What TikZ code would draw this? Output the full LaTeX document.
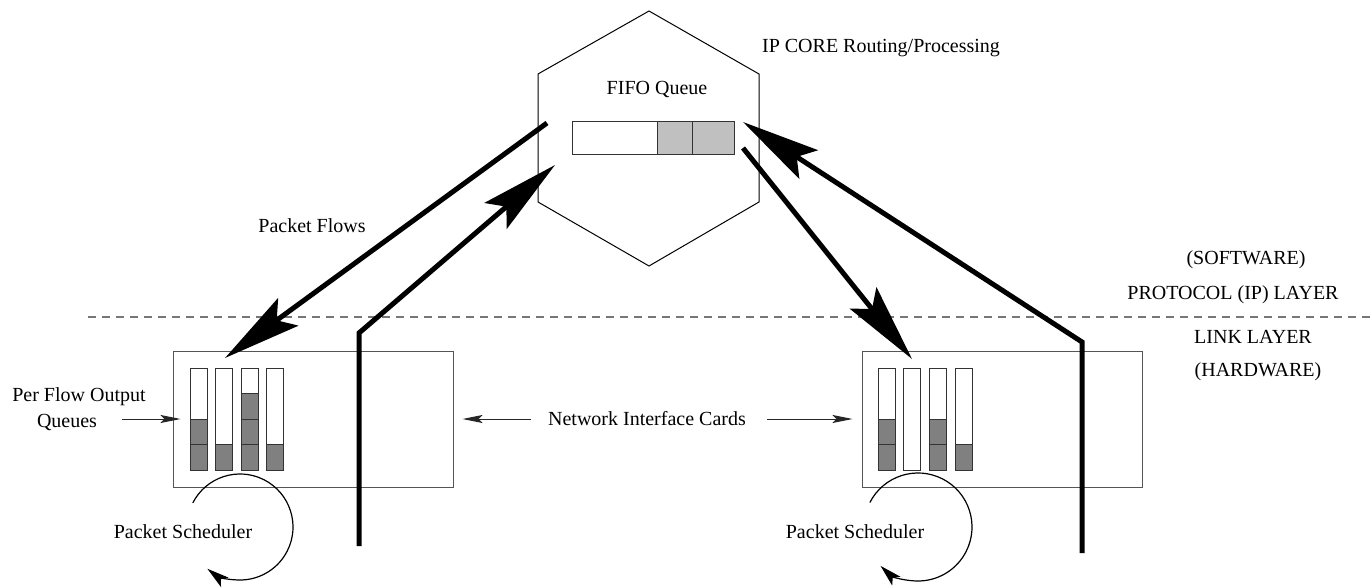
\documentclass[tikz,border=0pt]{standalone}
\usepackage{fontspec}
\setmainfont{Liberation Serif}
\usetikzlibrary{arrows.meta}
\definecolor{qgray}{HTML}{808080}
\definecolor{fgray}{HTML}{C0C0C0}
\definecolor{edgegray}{HTML}{555555}
\definecolor{dashgray}{HTML}{777777}
\tikzset{
  lbl/.style={font=\fontsize{10}{12}\selectfont, inner sep=0pt},
  flow/.style={line width=2.5pt, line join=miter, -{Stealth[length=39pt,width=17pt,inset=7pt]}},
  thinarrow/.style={line width=0.5pt, draw=black!85, -{Stealth[length=10pt,width=4pt,inset=2pt]}},
  schedarrow/.style={line width=0.6pt, draw=black, -{Stealth[length=11pt,width=6pt,inset=2.5pt]}},
  card/.style={draw=edgegray, line width=0.5pt, minimum width=140pt, minimum height=68pt, inner sep=0pt},
  qcol/.style={draw=black!80, line width=0.5pt},
  qcell/.style={fill=qgray, draw=black!80, line width=0.5pt},
  fcell/.style={fill=fgray, draw=black!80, line width=0.5pt},
  hexline/.style={draw=black, line width=0.5pt},
  layerline/.style={draw=dashgray, line width=0.6pt, dash pattern=on 4pt off 3pt},
}
\begin{document}
\begin{tikzpicture}[x=0.5pt,y=-0.5pt]
\useasboundingbox (0,0) rectangle (1370,588);

% hexagon (IP core)
\coordinate (h1) at (649,11);
\coordinate (h2) at (759,74);
\coordinate (h3) at (759,202);
\coordinate (h4) at (649,266);
\coordinate (h5) at (538,202);
\coordinate (h6) at (538,74);
\draw[hexline] (h1) -- (h2) -- (h3) -- (h4) -- (h5) -- (h6) -- cycle;

% FIFO queue
\draw[line width=0.5pt, draw=black!80] (572,122) rectangle (657,155);
\draw[fcell] (657,122) rectangle (692,155);
\draw[fcell] (692,122) rectangle (734,155);

% layer separator
\coordinate (dl) at (88,317);
\coordinate (dr) at (1370,317);
\draw[layerline] (dl) -- (dr);

% network interface cards
\node[card] (lbox) at (313,419) {};
\node[card] (rbox) at (1002,419) {};

% per flow queues, left card
\foreach \x/\n in {190/2,215/1,241/3,266/1}{
  \draw[qcol] (\x,368) rectangle (\x+17,470);
  \ifnum\n>0
    \foreach \k in {1,...,\n}{
      \draw[qcell] (\x,{470-25.5*\k}) rectangle (\x+17,{470-25.5*(\k-1)});
    }
  \fi
}
% per flow queues, right card
\foreach \x/\n in {878/2,903/0,929/2,955/1}{
  \draw[qcol] (\x,368) rectangle (\x+17,470);
  \ifnum\n>0
    \foreach \k in {1,...,\n}{
      \draw[qcell] (\x,{470-25.5*\k}) rectangle (\x+17,{470-25.5*(\k-1)});
    }
  \fi
}

% labels
\node[lbl] (ipcore) at (881,48) {IP CORE Routing/Processing};
\node[lbl] (fifo) at (657,90) {FIFO Queue};
\node[lbl] (pflows) at (312,226) {Packet Flows};
\node[lbl] (soft) at (1246,260) {(SOFTWARE)};
\node[lbl] (proto) at (1233,295) {PROTOCOL (IP) LAYER};
\node[lbl] (link) at (1253,337) {LINK LAYER};
\node[lbl] (hard) at (1258,372) {(HARDWARE)};
\node[lbl] (pfa) at (79,397) {Per Flow Output};
\node[lbl] (pfb) at (67,422) {Queues};
\node[lbl] (nic) at (647,419) {Network Interface Cards};
\node[lbl] (schl) at (183,532) {Packet Scheduler};
\node[lbl] (schr) at (855,532) {Packet Scheduler};

% thin pointer arrows
\coordinate (pfs) at (122,419);
\draw[thinarrow] (pfs) -- ([xshift=4pt]lbox.west);
\draw[thinarrow] ([xshift=-8.5pt]nic.west) -- ([xshift=4.5pt]lbox.east);
\draw[thinarrow] ([xshift=10.5pt]nic.east) -- ([xshift=-4.5pt]rbox.west);

% packet schedulers
\coordinate (scl) at (240,527);
\coordinate (scr) at (918,527);
\draw[schedarrow] ([shift={(153:26.5pt)}]scl) arc[start angle=153, end angle=-128, radius=26.5pt];
\draw[schedarrow] ([shift={(153:27pt)}]scr) arc[start angle=153, end angle=-134, radius=27pt];

% thick packet flows
\coordinate (a1s) at (547,123);
\coordinate (a1e) at (225,358);
\draw[flow] (a1s) -- (a1e);

\coordinate (a2s) at (359,546);
\coordinate (a2b) at (359,333);
\coordinate (a2e) at (555,165);
\draw[flow] (a2s) -- (a2b) -- (a2e);

\coordinate (a3s) at (743,148);
\coordinate (a3e) at (912,359);
\draw[flow] (a3s) -- (a3e);

\coordinate (a4s) at (1082,553);
\coordinate (a4b) at (1082,342);
\coordinate (a4e) at (743,122);
\draw[flow] (a4s) -- (a4b) -- (a4e);
\end{tikzpicture}
\end{document}
